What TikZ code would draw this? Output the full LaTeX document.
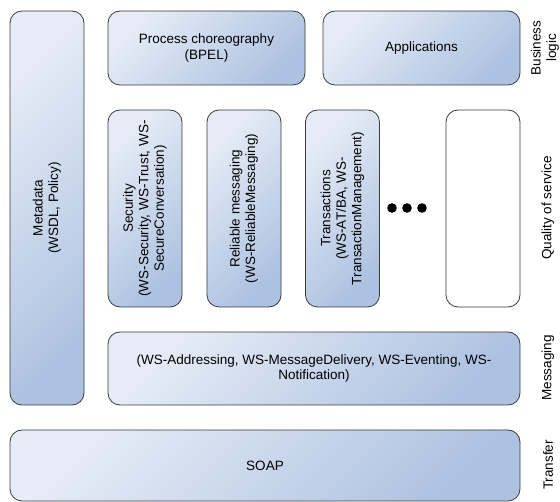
\documentclass[tikz,border=0pt]{standalone}
\usepackage{fontspec}
\setmainfont{Liberation Sans}
\usepackage{tikz}
\usetikzlibrary{positioning}
\definecolor{boxlight}{HTML}{E6ECF6}
\definecolor{boxdark}{HTML}{ADC2E1}
\definecolor{boxline}{HTML}{3A3A3A}
\tikzset{
  layer/.style={draw=boxline, line width=0.8pt, rounded corners=12pt,
    left color=boxlight, right color=boxdark, shading angle=45,
    inner sep=0pt},
  blank/.style={draw=boxline, line width=0.8pt, rounded corners=12pt,
    fill=white, inner sep=0pt},
  txt/.style={align=center, font=\fontsize{13.5}{15.5}\selectfont, inner sep=0pt},
  side/.style={txt, rotate=90}
}
\begin{document}
\begin{tikzpicture}[x=1pt,y=-1pt]
\useasboundingbox (0,0) rectangle (560,502);
% left column
\node[layer, minimum width=74pt, minimum height=394pt] (meta) at (47,208) {};
\node[side] at (meta) {Metadata\\(WSDL, Policy)};
% business logic
\node[layer, minimum width=197pt, minimum height=74pt] (bpel) at (206.5,48) {};
\node[txt] at (bpel) {Process choreography\\(BPEL)};
\node[layer, minimum width=197pt, minimum height=74pt] (apps) at (421.5,48) {};
\node[txt] at (apps) {Applications};
% quality of service
\node[layer, minimum width=74pt, minimum height=197pt] (sec) at (145,208.5) {};
\node[side] at (sec) {Security\\(WS-Security, WS-Trust, WS-\\SecureConversation)};
\node[layer, minimum width=74pt, minimum height=197pt] (rel) at (244,208.5) {};
\node[side] at (rel) {Reliable messaging\\(WS-ReliableMessaging)};
\node[layer, minimum width=74pt, minimum height=197pt] (trans) at (342.5,208.5) {};
\node[side] at (trans) {Transactions\\(WS-AT/BA, WS-\\TransactionManagement)};
\foreach \dx in {-15,0,15}
  \fill (407+\dx,208) circle (4.8pt);
\node[blank, minimum width=74pt, minimum height=197pt] (more) at (483,208.5) {};
% messaging
\node[layer, minimum width=412pt, minimum height=73pt] (msg) at (314,368.5) {};
\node[txt] at (msg) {(WS-Addressing, WS-MessageDelivery, WS-Eventing, WS-\\Notification)};
% transfer
\node[layer, minimum width=510pt, minimum height=71pt] (soap) at (265,465.5) {};
\node[txt] at (soap) {SOAP};
% layer names
\node[side] (lbiz) at (545,48) {Business\\logic};
\node[side] (lqos) at (548,208) {Quality of service};
\node[side] (lmsg) at (548,368) {Messaging};
\node[side] (ltra) at (548,465) {Transfer};
\end{tikzpicture}
\end{document}
